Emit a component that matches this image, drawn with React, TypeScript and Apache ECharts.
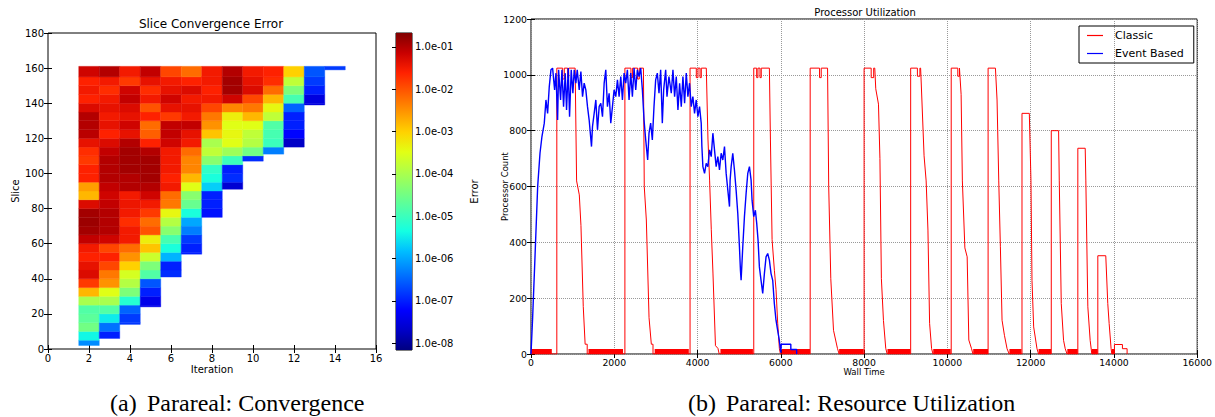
import React, { useEffect, useRef } from "react";
import * as echarts from "echarts";

// ---------- Left: Slice Convergence Error ----------
const iterations = [2, 3, 4, 5, 6, 7, 8, 9, 10, 11, 12, 13, 14];
const sliceStarts = [2, 6, 14, 24, 41, 54, 75, 91, 107, 111, 115, 139, 159];
const sliceTop = 161;
const bandStep = 5;
// log10(error) per band, bottom-up; bands: [start, next multiple of 5), ..., [155, 161)
const logErrors: number[][] = [
  [-6.2, -5.4, -4.5, -4.7, -4.8, -4.0, -2.8, -1.8, -1.3, -1.4, -1.6, -1.5, -1.1, -0.9, -0.85, -0.9, -1.3, -2.8, -2.6, -1.6, -1.6, -1.8, -1.7, -1.4, -1.05, -1.0, -1.0, -1.3, -1.6, -1.5, -1.6, -1.2],
  [-7.0, -6.4, -5.5, -4.8, -4.0, -3.5, -2.5, -2.3, -1.9, -1.6, -1.9, -1.2, -1.0, -1.0, -1.0, -1.1, -1.2, -1.1, -1.0, -1.0, -1.0, -1.1, -1.3, -1.6, -1.4, -1.5, -1.4, -1.5, -1.7, -1.5, -1.0],
  [-6.8, -6.8, -6.5, -5.2, -4.4, -3.9, -3.6, -3.0, -2.5, -2.2, -1.5, -1.5, -1.7, -1.5, -1.45, -1.5, -1.0, -1.0, -0.9, -0.9, -0.9, -1.0, -1.4, -1.2, -1.4, -1.3, -1.1, -1.2, -1.8, -1.5],
  [-7.4, -7.4, -7.0, -6.6, -4.8, -4.4, -3.7, -2.9, -3.3, -2.0, -2.2, -1.8, -1.5, -1.2, -1.0, -0.9, -0.9, -0.9, -1.0, -1.6, -2.1, -2.2, -1.6, -2.0, -1.5, -1.7, -1.4, -1.1],
  [-6.9, -7.0, -5.9, -5.3, -4.9, -4.3, -3.9, -3.4, -2.3, -2.2, -1.5, -1.6, -1.5, -1.5, -1.5, -1.2, -1.1, -1.1, -1.8, -1.4, -1.2, -1.4, -1.5, -1.9],
  [-7.0, -7.0, -6.8, -6.3, -6.0, -5.3, -4.6, -4.3, -3.5, -2.8, -2.4, -2.4, -2.2, -1.5, -1.4, -1.1, -1.5, -1.4, -1.5, -1.3, -1.6, -2.2],
  [-7.1, -7.0, -7.0, -5.7, -5.3, -5.1, -4.3, -3.8, -4.0, -2.9, -2.5, -2.3, -1.9, -1.5, -1.6, -1.5, -1.5],
  [-7.6, -6.9, -7.0, -5.0, -4.1, -3.5, -3.4, -3.5, -3.3, -2.4, -1.2, -0.9, -0.9, -1.0],
  [-6.9, -4.5, -3.9, -3.8, -3.5, -2.8, -2.3, -1.9, -1.3, -1.4, -1.5],
  [-6.3, -5.0, -4.9, -4.8, -3.8, -3.4, -2.8, -2.2, -1.7, -1.6],
  [-7.7, -7.2, -7.0, -7.0, -6.5, -4.9, -4.4, -3.8, -3.0],
  [-7.5, -7.5, -7.0, -6.8, -6.6],
  [-6.8],
];
const errorRange = [-8.16, -0.67];
const colorbarTicks = [-8, -7, -6, -5, -4, -3, -2, -1];
const jet = [
  "#000080", "#0000c8", "#0000ff", "#0040ff", "#0080ff", "#00bfff", "#14ffe2", "#48ffaf",
  "#7bff7b", "#afff48", "#e2ff14", "#ffd200", "#ff9700", "#ff5c00", "#ff2100", "#c80000", "#800000",
];

// ---------- Right: Processor Utilization ----------
const classicPoints: [number, number][] = [
  [0, 0], [620, 0], [620, 1024], [760, 1024], [760, 985], [800, 985], [800, 1024], [880, 1024], [880, 990], [905, 990], [905, 1024],
  [1060, 1024], [1095, 620], [1160, 570], [1200, 460], [1255, 170], [1300, 35], [1350, 35], [1350, 0],
  [2255, 0], [2255, 1024], [2400, 1024], [2400, 990], [2440, 990], [2440, 1024], [2560, 1024], [2560, 985], [2600, 985], [2600, 1024],
  [2700, 1024], [2720, 600], [2770, 480], [2835, 130], [2890, 35], [2930, 35], [2930, 0],
  [3820, 0], [3820, 1024], [3970, 1024], [3970, 990], [4010, 990], [4010, 1024], [4060, 1024], [4060, 990], [4090, 990], [4090, 1024],
  [4210, 1024], [4250, 770], [4290, 620], [4330, 445], [4370, 290], [4430, 30], [4490, 20], [4520, 0],
  [5350, 0], [5350, 1024], [5420, 1024], [5420, 990], [5450, 990], [5450, 1024], [5500, 1024], [5500, 990], [5530, 990], [5530, 1024],
  [5725, 1024], [5750, 770], [5790, 410], [5845, 300], [5885, 230], [5925, 110], [5965, 20], [5990, 0],
  [6705, 0], [6705, 1024], [6930, 1024], [6930, 990], [6970, 990], [6970, 1024],
  [7122, 1024], [7150, 600], [7200, 270], [7265, 85], [7360, 20], [7400, 0],
  [8000, 0], [8000, 1024], [8170, 1024], [8170, 990], [8230, 990], [8230, 1024],
  [8256, 1024], [8280, 950], [8345, 895], [8380, 700], [8415, 270], [8465, 120], [8520, 20], [8555, 0],
  [9118, 0], [9118, 1024], [9280, 1024], [9280, 995], [9340, 995], [9340, 1024],
  [9357, 1024], [9375, 960], [9440, 710], [9490, 620], [9533, 444], [9573, 110], [9621, 19], [9655, 0],
  [10092, 0], [10092, 1024], [10250, 1024], [10250, 995], [10290, 995], [10290, 1024],
  [10300, 1024], [10330, 930], [10360, 620], [10420, 380], [10475, 348], [10515, 50], [10580, 19], [10615, 0],
  [10978, 0], [10978, 1024], [11154, 1024], [11193, 910], [11234, 620], [11273, 384], [11313, 121], [11370, 67], [11433, 19], [11485, 0],
  [11792, 0], [11792, 862], [11968, 862], [12007, 623], [12032, 264], [12072, 97], [12152, 19], [12190, 0],
  [12495, 0], [12495, 800], [12671, 800], [12687, 623], [12735, 181], [12790, 49], [12830, 19], [12875, 0],
  [13133, 0], [13133, 737], [13310, 737], [13325, 623], [13373, 169], [13429, 49], [13469, 0],
  [13613, 0], [13613, 352], [13804, 352], [13852, 181], [13885, 109], [13932, 19], [13950, 0],
  [14012, 0], [14012, 34], [14204, 34], [14204, 19], [14316, 19], [14316, 0],
];
const classicIdle: [number, number][] = [
  [0, 500], [1380, 2210], [2970, 3790], [4550, 5330], [6020, 6700], [7400, 7990], [8560, 9110],
  [9660, 10080], [10620, 10975], [11490, 11780], [12190, 12490], [12880, 13130], [13470, 13610], [13950, 14010],
];
const idleLevel = 18;
const eventPoints: [number, number][] = [
  [0, 0], [40, 133], [96, 348], [160, 599], [216, 719], [263, 779], [319, 827], [359, 910], [399, 862], [439, 958],
  [479, 1018], [519, 1024], [567, 946], [599, 1006], [639, 838], [663, 1018], [711, 910], [743, 1018], [782, 886],
  [822, 1006], [854, 874], [894, 1024], [926, 850], [966, 1018], [1006, 934], [1038, 1018], [1078, 970], [1110, 1018],
  [1158, 946], [1198, 1012], [1238, 922], [1277, 970], [1317, 946], [1357, 886], [1397, 838], [1453, 743], [1477, 815],
  [1517, 862], [1557, 910], [1597, 803], [1637, 886], [1677, 898], [1717, 850], [1757, 970], [1796, 1018], [1836, 886],
  [1876, 934], [1916, 827], [1956, 886], [1996, 946], [2036, 922], [2076, 982], [2116, 922], [2156, 994], [2196, 910],
  [2236, 1006], [2275, 970], [2315, 1018], [2355, 910], [2395, 1006], [2435, 922], [2475, 1024], [2515, 946], [2555, 1018],
  [2595, 994], [2635, 1024], [2675, 946], [2715, 838], [2755, 767], [2802, 695], [2834, 791], [2874, 827], [2914, 767],
  [2954, 886], [2994, 982], [3034, 1006], [3074, 934], [3114, 1018], [3154, 827], [3186, 946], [3234, 1018], [3266, 922],
  [3313, 994], [3369, 934], [3409, 1018], [3449, 922], [3489, 994], [3529, 874], [3569, 970], [3609, 886], [3649, 994],
  [3689, 898], [3729, 1006], [3768, 922], [3808, 970], [3848, 886], [3888, 922], [3928, 862], [3968, 910], [4008, 850],
  [4048, 886], [4088, 827], [4104, 743], [4128, 671], [4168, 647], [4208, 683], [4248, 671], [4288, 731], [4328, 707],
  [4368, 791], [4407, 731], [4447, 671], [4487, 707], [4527, 659], [4567, 719], [4607, 695], [4647, 743], [4687, 647],
  [4727, 587], [4767, 528], [4782, 623], [4807, 671], [4846, 719], [4886, 659], [4926, 587], [4966, 504], [5006, 384],
  [5030, 300], [5046, 264], [5086, 384], [5126, 492], [5166, 575], [5206, 647], [5246, 671], [5286, 623], [5309, 551],
  [5349, 492], [5389, 515], [5421, 468], [5453, 408], [5485, 312], [5525, 264], [5565, 217], [5605, 288], [5645, 348],
  [5685, 360], [5725, 336], [5765, 288], [5805, 264], [5844, 181], [5884, 121], [5924, 85], [5964, 49], [6000, 5],
  [6010, 35], [6240, 35], [6240, 16], [6380, 16], [6380, 0],
];

const FONT = "DejaVu Sans";

function buildCells() {
  const cells: number[][] = [];
  iterations.forEach((it, ci) => {
    const s = sliceStarts[ci];
    const edges = [s];
    for (let m = Math.floor(s / bandStep) * bandStep + bandStep; m <= 155; m += bandStep) edges.push(m);
    edges.push(sliceTop);
    const vals = logErrors[ci];
    for (let b = 0; b < edges.length - 1 && b < vals.length; b++) {
      cells.push([it, edges[b], edges[b + 1], vals[b]]);
    }
  });
  return cells;
}

export default function App() {
  const ref = useRef<HTMLDivElement>(null);
  useEffect(() => {
    if (!ref.current) return;
    const chart = echarts.init(ref.current, undefined, { renderer: "svg" });
    const cells = buildCells();
    const tickStyle = { inside: true, length: 4, lineStyle: { color: "#000" } };
    const lbl = (size: number, margin: number) => ({ fontSize: size, color: "#000", fontFamily: FONT, margin, formatter: (v: number) => String(v) });
    const nameStyle = (size: number) => ({ fontSize: size, fontFamily: FONT, color: "#000" });
    const dotted = { show: true, lineStyle: { type: "dotted" as const, color: "#999", width: 1 } };
    const lineIcon = "path://M0,0H16V1.2H0Z";
    const option: any = {
      animation: false,
      backgroundColor: "#fff",
      grid: [
        { left: 48, top: 33, width: 328, height: 316, show: true, borderColor: "#000", borderWidth: 1, backgroundColor: "transparent" },
        { left: 396, top: 33, width: 16, height: 317, show: true, borderColor: "#000", borderWidth: 1, backgroundColor: "transparent" },
        { left: 531, top: 19, width: 668, height: 335, show: true, borderColor: "#000", borderWidth: 1, backgroundColor: "transparent" },
      ],
      xAxis: [
        { gridIndex: 0, type: "value", min: 0, max: 16, interval: 2, axisLine: { show: false }, axisTick: tickStyle, splitLine: { show: false },
          axisLabel: lbl(10, 4), name: "Iteration", nameLocation: "middle", nameGap: 15, nameMoveOverlap: false, nameTextStyle: nameStyle(10) },
        { gridIndex: 0, type: "value", position: "top", min: 0, max: 16, interval: 2, axisLine: { show: false }, axisTick: tickStyle, splitLine: { show: false }, axisLabel: { show: false } },
        { gridIndex: 1, type: "value", min: 0, max: 1, show: false },
        { gridIndex: 2, type: "value", min: 0, max: 16000, interval: 2000, axisLine: { show: false }, axisTick: tickStyle, splitLine: dotted,
          axisLabel: lbl(9.3, 4), name: "Wall Time", nameLocation: "middle", nameGap: 13, nameMoveOverlap: false, nameTextStyle: nameStyle(8.5) },
        { gridIndex: 2, type: "value", position: "top", min: 0, max: 16000, interval: 2000, axisLine: { show: false }, axisTick: tickStyle, splitLine: { show: false }, axisLabel: { show: false } },
      ],
      yAxis: [
        { gridIndex: 0, type: "value", min: 0, max: 180, interval: 20, axisLine: { show: false }, axisTick: tickStyle, splitLine: { show: false },
          axisLabel: lbl(10, 4), name: "Slice", nameLocation: "middle", nameGap: 28, nameMoveOverlap: false, nameTextStyle: nameStyle(10) },
        { gridIndex: 0, type: "value", position: "right", min: 0, max: 180, interval: 20, axisLine: { show: false }, axisTick: tickStyle, splitLine: { show: false }, axisLabel: { show: false } },
        { gridIndex: 1, type: "value", position: "right", min: errorRange[0], max: errorRange[1], axisLine: { show: false }, splitLine: { show: false },
          axisTick: { ...tickStyle, customValues: colorbarTicks },
          axisLabel: { fontSize: 10, color: "#000", fontFamily: FONT, margin: 3, customValues: colorbarTicks, formatter: (v: number) => "1.0e-0" + Math.round(-v) },
          name: "Error", nameLocation: "middle", nameGap: 57, nameMoveOverlap: false, nameTextStyle: nameStyle(10) },
        { gridIndex: 2, type: "value", min: 0, max: 1200, interval: 200, axisLine: { show: false }, axisTick: tickStyle, splitLine: dotted,
          axisLabel: lbl(9.3, 4), name: "Processor Count", nameLocation: "middle", nameGap: 22, nameMoveOverlap: false, nameTextStyle: nameStyle(8.5) },
        { gridIndex: 2, type: "value", position: "right", min: 0, max: 1200, interval: 200, axisLine: { show: false }, axisTick: tickStyle, splitLine: { show: false }, axisLabel: { show: false } },
      ],
      visualMap: [
        { type: "continuous", show: false, seriesIndex: 0, dimension: 3, min: errorRange[0], max: errorRange[1], inRange: { color: jet } },
      ],
      legend: {
        data: [
          { name: "Classic", icon: lineIcon, itemStyle: { color: "#ff0000" } },
          { name: "Event Based", icon: lineIcon, itemStyle: { color: "#0000ff" } },
        ],
        orient: "vertical", left: 1079, top: 26,
        borderColor: "#000", borderWidth: 1, borderRadius: 0, padding: [4, 10, 4, 8], itemGap: 7,
        itemWidth: 16, itemHeight: 1.2, textStyle: { fontSize: 11, fontFamily: FONT, color: "#000", padding: [0, 0, 0, 7] },
      },
      series: [
        {
          type: "custom", name: "heat", xAxisIndex: 0, yAxisIndex: 0, data: cells, encode: { x: 0, y: [1, 2] },
          renderItem: (_p: any, api: any) => {
            const x = api.value(0), lo = api.value(1), hi = api.value(2);
            const a = api.coord([x - 0.5, hi]);
            const b = api.coord([x + 0.5, lo]);
            const c = api.visual("color");
            return { type: "rect", shape: { x: a[0], y: a[1], width: b[0] - a[0], height: b[1] - a[1] }, style: { fill: c, stroke: c, lineWidth: 0.4 } };
          },
        },
        {
          type: "custom", name: "colorbar", xAxisIndex: 2, yAxisIndex: 2, data: [[0, errorRange[0], errorRange[1]]],
          renderItem: (_p: any, api: any) => {
            const a = api.coord([0, api.value(2)]);
            const b = api.coord([1, api.value(1)]);
            const stops = jet.map((col, i) => ({ offset: i / (jet.length - 1), color: col }));
            return { type: "rect", shape: { x: a[0], y: a[1], width: b[0] - a[0], height: b[1] - a[1] }, style: { fill: new echarts.graphic.LinearGradient(0, 1, 0, 0, stops) } };
          },
        },
        {
          type: "custom", name: "Classic idle", xAxisIndex: 3, yAxisIndex: 3, data: classicIdle, encode: { x: [0, 1] },
          renderItem: (_p: any, api: any) => {
            const a = api.coord([api.value(0), idleLevel]);
            const b = api.coord([api.value(1), 0]);
            return { type: "rect", shape: { x: a[0], y: a[1], width: b[0] - a[0], height: b[1] - a[1] }, style: { fill: "#ff0000" } };
          },
        },
        { type: "line", name: "Classic", xAxisIndex: 3, yAxisIndex: 3, data: classicPoints, symbol: "none", lineStyle: { color: "#ff0000", width: 1 }, itemStyle: { color: "#ff0000" } },
        { type: "line", name: "Event Based", xAxisIndex: 3, yAxisIndex: 3, data: eventPoints, symbol: "none", lineStyle: { color: "#0000ff", width: 1.4 }, itemStyle: { color: "#0000ff" } },
      ],
      graphic: [
        { type: "text", x: 211, y: 24, style: { text: "Slice Convergence Error", font: `12px "${FONT}"`, fill: "#000", align: "center", verticalAlign: "middle", textAlign: "center", textVerticalAlign: "middle" } },
        { type: "text", x: 865, y: 12, style: { text: "Processor Utilization", font: `10px "${FONT}"`, fill: "#000", align: "center", verticalAlign: "middle", textAlign: "center", textVerticalAlign: "middle" } },
        { type: "text", x: 110, y: 403, style: { text: "(a)", font: `24px "Liberation Serif"`, fill: "#000", align: "left", verticalAlign: "middle", textAlign: "left", textVerticalAlign: "middle" } },
        { type: "text", x: 147, y: 403, style: { text: "Parareal: Convergence", font: `24px "Liberation Serif"`, fill: "#000", align: "left", verticalAlign: "middle", textAlign: "left", textVerticalAlign: "middle" } },
        { type: "text", x: 688, y: 403, style: { text: "(b)", font: `24px "Liberation Serif"`, fill: "#000", align: "left", verticalAlign: "middle", textAlign: "left", textVerticalAlign: "middle" } },
        { type: "text", x: 726, y: 403, style: { text: "Parareal: Resource Utilization", font: `24px "Liberation Serif"`, fill: "#000", align: "left", verticalAlign: "middle", textAlign: "left", textVerticalAlign: "middle" } },
      ],
    };
    chart.setOption(option);
    return () => chart.dispose();
  }, []);
  return <div ref={ref} style={{ position: "fixed", left: 0, top: 0, width: 1215, height: 417, background: "#fff" }} />;
}
